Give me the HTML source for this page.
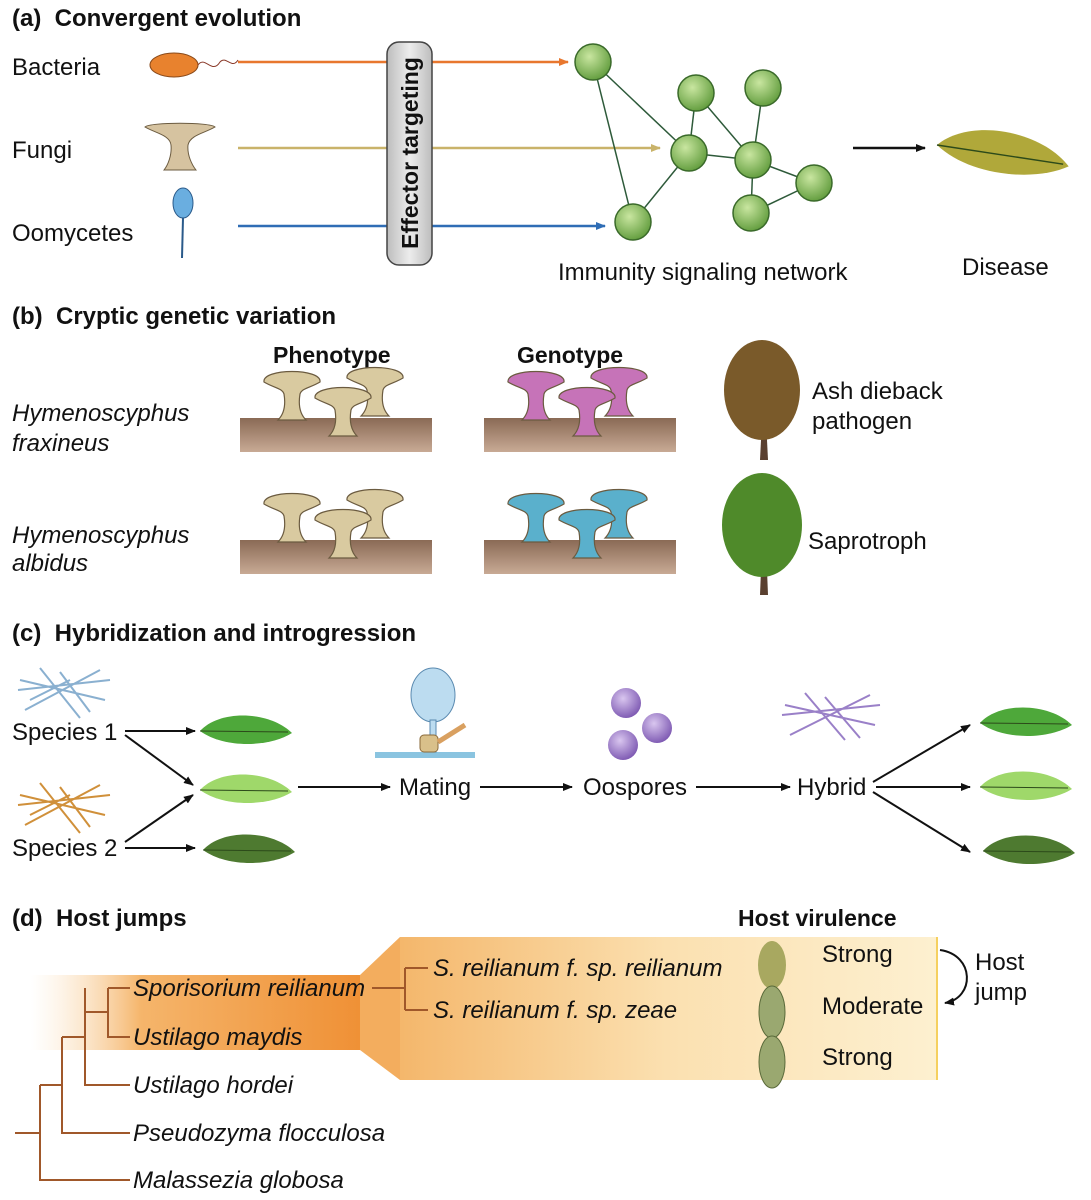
<!DOCTYPE html>
<html><head><meta charset="utf-8"><style>
html,body{margin:0;padding:0;background:#fff}
svg{display:block}
text{font-family:"Liberation Sans",Arial,sans-serif;fill:#111}
.t{font-size:24px;font-weight:bold;white-space:pre}
.h{font-size:23px;font-weight:bold}
.l{font-size:24px}
.i{font-size:24px;font-style:italic}
</style></head><body>
<svg width="1091" height="1200" viewBox="0 0 1091 1200" xmlns="http://www.w3.org/2000/svg">
<defs>
<marker id="ah" markerWidth="10" markerHeight="10" refX="9" refY="5" orient="auto" markerUnits="userSpaceOnUse"><path d="M0,1 L10,5 L0,9 Z" fill="#111"/></marker>
<marker id="ao" markerWidth="10" markerHeight="10" refX="9" refY="5" orient="auto" markerUnits="userSpaceOnUse"><path d="M0,1 L10,5 L0,9 Z" fill="#e8772e"/></marker>
<marker id="at" markerWidth="10" markerHeight="10" refX="9" refY="5" orient="auto" markerUnits="userSpaceOnUse"><path d="M0,1 L10,5 L0,9 Z" fill="#c9b36a"/></marker>
<marker id="ab" markerWidth="10" markerHeight="10" refX="9" refY="5" orient="auto" markerUnits="userSpaceOnUse"><path d="M0,1 L10,5 L0,9 Z" fill="#2f6db5"/></marker>
<radialGradient id="gn" cx="0.4" cy="0.35" r="0.7"><stop offset="0" stop-color="#c9e6a0"/><stop offset="1" stop-color="#5e9a3a"/></radialGradient>
<radialGradient id="gp" cx="0.4" cy="0.35" r="0.7"><stop offset="0" stop-color="#d9c6ef"/><stop offset="1" stop-color="#7a55b0"/></radialGradient>
<linearGradient id="box" x1="0" x2="1"><stop offset="0" stop-color="#bdbdbd"/><stop offset="0.5" stop-color="#ececec"/><stop offset="1" stop-color="#bdbdbd"/></linearGradient>
<linearGradient id="og" x1="0" x2="1"><stop offset="0" stop-color="#fbe3c2" stop-opacity="0"/><stop offset="0.3" stop-color="#f5b56b"/><stop offset="1" stop-color="#ee8a2c"/></linearGradient>
<linearGradient id="og2" x1="0" x2="1"><stop offset="0" stop-color="#f4b66a"/><stop offset="0.5" stop-color="#fbe0b0"/><stop offset="1" stop-color="#fdf0d0"/></linearGradient>
<linearGradient id="log" x1="0" y1="0" x2="0" y2="1"><stop offset="0" stop-color="#8a6a55"/><stop offset="1" stop-color="#c8aa95"/></linearGradient>
<g id="leaf"><path d="M0,0 C20,-22 70,-20 92,2 C70,16 25,18 0,0 Z"/><path d="M0,0 L88,1" stroke="#2c4a1a" stroke-width="1" fill="none"/></g>
<g id="mush"><path d="M-28,-20 C-30,-34 30,-34 28,-20 C18,-14 10,-14 8,-8 C6,4 8,12 14,18 L-14,18 C-8,12 -6,4 -8,-8 C-10,-14 -18,-14 -28,-20 Z" stroke="#6b5b40" stroke-width="1.2"/></g>
</defs>

<!-- (a) -->
<text x="12" y="26" class="t">(a)  Convergent evolution</text>
<text x="12" y="75" class="l">Bacteria</text>
<text x="12" y="158" class="l">Fungi</text>
<text x="12" y="241" class="l">Oomycetes</text>
<ellipse cx="174" cy="65" rx="24" ry="12" fill="#e8822e" stroke="#8a4a1a"/>
<path d="M198,65 C205,55 212,75 220,62 C226,55 232,70 238,60" stroke="#8a3a2a" fill="none"/>
<path d="M145,127 C150,122 210,122 215,127 C205,133 190,135 188,145 C187,155 192,165 196,170 L164,170 C168,165 172,155 171,145 C170,135 155,133 145,127Z" fill="#d6c3a0" stroke="#6b5b40"/>
<ellipse cx="183" cy="203" rx="10" ry="15" fill="#6aaee0" stroke="#2a5a8a"/>
<path d="M183,218 L182,258" stroke="#2a5a8a" stroke-width="2"/>
<line x1="238" y1="62" x2="568" y2="62" stroke="#e8772e" stroke-width="2.5" marker-end="url(#ao)"/>
<line x1="238" y1="148" x2="660" y2="148" stroke="#c9b36a" stroke-width="2.5" marker-end="url(#at)"/>
<line x1="238" y1="226" x2="605" y2="226" stroke="#2f6db5" stroke-width="2.5" marker-end="url(#ab)"/>
<rect x="387" y="42" width="45" height="223" rx="12" fill="url(#box)" stroke="#444" stroke-width="1.5"/>
<text transform="translate(418,153) rotate(-90)" text-anchor="middle" class="t" style="font-size:23px">Effector targeting</text>
<g stroke="#2e5a3a" stroke-width="1.5">
<line x1="593" y1="62" x2="633" y2="222"/><line x1="593" y1="62" x2="689" y2="153"/>
<line x1="696" y1="93" x2="689" y2="153"/><line x1="763" y1="88" x2="753" y2="160"/>
<line x1="689" y1="153" x2="753" y2="160"/><line x1="689" y1="153" x2="633" y2="222"/>
<line x1="753" y1="160" x2="751" y2="213"/><line x1="696" y1="93" x2="753" y2="160"/>
<line x1="814" y1="183" x2="751" y2="213"/><line x1="814" y1="183" x2="753" y2="160"/>
</g>
<g fill="url(#gn)" stroke="#3a6a2a" stroke-width="1.5">
<circle cx="593" cy="62" r="18"/><circle cx="696" cy="93" r="18"/><circle cx="763" cy="88" r="18"/>
<circle cx="689" cy="153" r="18"/><circle cx="753" cy="160" r="18"/><circle cx="814" cy="183" r="18"/>
<circle cx="751" cy="213" r="18"/><circle cx="633" cy="222" r="18"/></g>
<text x="558" y="280" class="l">Immunity signaling network</text>
<line x1="853" y1="148" x2="925" y2="148" stroke="#111" stroke-width="2.5" marker-end="url(#ah)"/>
<use href="#leaf" transform="translate(937,145) rotate(8) scale(1.45)" fill="#b0a83a"/>
<text x="962" y="275" class="l">Disease</text>

<!-- (b) -->
<text x="12" y="324" class="t">(b)  Cryptic genetic variation</text>
<text x="273" y="363" class="h">Phenotype</text>
<text x="517" y="363" class="h">Genotype</text>
<text x="12" y="421" class="i">Hymenoscyphus</text><text x="12" y="451" class="i">fraxineus</text>
<text x="12" y="543" class="i">Hymenoscyphus</text><text x="12" y="571" class="i">albidus</text>
<g>
<rect x="240" y="418" width="192" height="34" fill="url(#log)"/>
<rect x="484" y="418" width="192" height="34" fill="url(#log)"/>
<rect x="240" y="540" width="192" height="34" fill="url(#log)"/>
<rect x="484" y="540" width="192" height="34" fill="url(#log)"/>
<g fill="#d9caa0"><use href="#mush" x="292" y="402"/><use href="#mush" x="375" y="398"/><use href="#mush" x="343" y="418"/>
<use href="#mush" x="292" y="524"/><use href="#mush" x="375" y="520"/><use href="#mush" x="343" y="540"/></g>
<g fill="#c673b8"><use href="#mush" x="536" y="402"/><use href="#mush" x="619" y="398"/><use href="#mush" x="587" y="418"/></g>
<g fill="#5ab0cc"><use href="#mush" x="536" y="524"/><use href="#mush" x="619" y="520"/><use href="#mush" x="587" y="540"/></g>
</g>
<path d="M762,420 L760,460 L768,460 L766,420Z" fill="#5a4030"/>
<ellipse cx="762" cy="390" rx="38" ry="50" fill="#7a5a2a"/>
<path d="M762,545 L760,595 L768,595 L766,545Z" fill="#5a4030"/>
<ellipse cx="762" cy="525" rx="40" ry="52" fill="#4f8a2a"/>
<text x="812" y="399" class="l">Ash dieback</text><text x="812" y="429" class="l">pathogen</text>
<text x="808" y="549" class="l">Saprotroph</text>

<!-- (c) -->
<text x="12" y="641" class="t">(c)  Hybridization and introgression</text>
<g stroke="#8ab0d0" stroke-width="2" fill="none"><path d="M18,690 L110,680 M25,710 L100,670 M40,668 L80,718 M20,680 L105,700 M60,672 L90,712 M30,700 L70,680"/></g>
<g stroke="#d0903a" stroke-width="2" fill="none"><path d="M18,805 L110,795 M25,825 L100,785 M40,783 L80,833 M20,795 L105,815 M60,787 L90,827 M30,815 L70,795"/></g>
<text x="12" y="740" class="l">Species 1</text>
<text x="12" y="856" class="l">Species 2</text>
<g stroke="#111" stroke-width="2" fill="none">
<line x1="125" y1="731" x2="195" y2="731" marker-end="url(#ah)"/>
<line x1="125" y1="735" x2="193" y2="785" marker-end="url(#ah)"/>
<line x1="125" y1="842" x2="193" y2="795" marker-end="url(#ah)"/>
<line x1="125" y1="848" x2="195" y2="848" marker-end="url(#ah)"/>
<line x1="298" y1="787" x2="390" y2="787" marker-end="url(#ah)"/>
<line x1="480" y1="787" x2="572" y2="787" marker-end="url(#ah)"/>
<line x1="696" y1="787" x2="790" y2="787" marker-end="url(#ah)"/>
<line x1="873" y1="782" x2="970" y2="725" marker-end="url(#ah)"/>
<line x1="876" y1="787" x2="970" y2="787" marker-end="url(#ah)"/>
<line x1="873" y1="792" x2="970" y2="852" marker-end="url(#ah)"/>
</g>
<use href="#leaf" transform="translate(200,731)" fill="#4ea83a"/>
<use href="#leaf" transform="translate(200,790)" fill="#9fd86a"/>
<use href="#leaf" transform="translate(203,850)" fill="#4e7a30"/>
<use href="#leaf" transform="translate(980,723)" fill="#4ea83a"/>
<use href="#leaf" transform="translate(980,787)" fill="#9fd86a"/>
<use href="#leaf" transform="translate(983,851)" fill="#4e7a30"/>
<rect x="375" y="752" width="100" height="6" fill="#8ac4e0"/>
<ellipse cx="433" cy="695" rx="22" ry="27" fill="#bcdcf0" stroke="#5a8ab0"/>
<path d="M430,720 L430,752 L436,752 L436,720Z" fill="#bcdcf0" stroke="#5a8ab0"/>
<rect x="420" y="735" width="18" height="17" rx="4" fill="#d9c08a" stroke="#8a6a3a"/>
<path d="M438,742 L465,725" stroke="#d9a060" stroke-width="5"/>
<text x="399" y="795" class="l">Mating</text>
<circle cx="626" cy="703" r="15" fill="url(#gp)"/><circle cx="657" cy="728" r="15" fill="url(#gp)"/><circle cx="623" cy="745" r="15" fill="url(#gp)"/>
<text x="583" y="795" class="l">Oospores</text>
<g stroke="#9a80c8" stroke-width="2" fill="none"><path d="M782,715 L880,705 M790,735 L870,695 M805,693 L845,740 M785,705 L875,725 M825,697 L860,738"/></g>
<text x="797" y="795" class="l">Hybrid</text>

<!-- (d) -->
<text x="12" y="926" class="t">(d)  Host jumps</text>
<text x="738" y="926" class="h">Host virulence</text>
<rect x="30" y="975" width="370" height="75" fill="url(#og)"/>
<path d="M395,975 L395,1050 L400,1080 L937,1080 L937,937 L400,937 Z" fill="url(#og2)"/>
<path d="M360,975 L400,937 L400,1080 L360,1050 Z" fill="#f3ad5e"/>
<line x1="937" y1="937" x2="937" y2="1080" stroke="#f5d060" stroke-width="2"/>
<g stroke="#a0582a" stroke-width="2" fill="none">
<path d="M15,1133 H40 M40,1085 V1180 H130 M40,1085 H62 M62,1037 V1133 H130 M62,1037 H85 M85,988 V1085 H130 M85,1012 H108 M108,988 V1037 H130 M108,988 H130 M372,988 H405 M405,968 V1010 M405,968 H428 M405,1010 H428"/>
</g>
<text x="133" y="996" class="i">Sporisorium reilianum</text>
<text x="133" y="1045" class="i">Ustilago maydis</text>
<text x="133" y="1093" class="i">Ustilago hordei</text>
<text x="133" y="1141" class="i">Pseudozyma flocculosa</text>
<text x="133" y="1188" class="i">Malassezia globosa</text>
<text x="433" y="976" class="i">S. reilianum f. sp. reilianum</text>
<text x="433" y="1018" class="i">S. reilianum f. sp. zeae</text>
<ellipse cx="772" cy="965" rx="14" ry="24" fill="#a8a860"/>
<ellipse cx="772" cy="1012" rx="13" ry="26" fill="#9aa870" stroke="#5a6a3a"/>
<ellipse cx="772" cy="1062" rx="13" ry="26" fill="#9aa870" stroke="#5a6a3a"/>
<text x="822" y="962" class="l">Strong</text>
<text x="822" y="1014" class="l">Moderate</text>
<text x="822" y="1065" class="l">Strong</text>
<path d="M940,950 C975,955 975,998 945,1003" stroke="#111" stroke-width="2" fill="none" marker-end="url(#ah)"/>
<text x="975" y="970" class="l">Host</text><text x="975" y="1000" class="l">jump</text>
</svg>
</body></html>
